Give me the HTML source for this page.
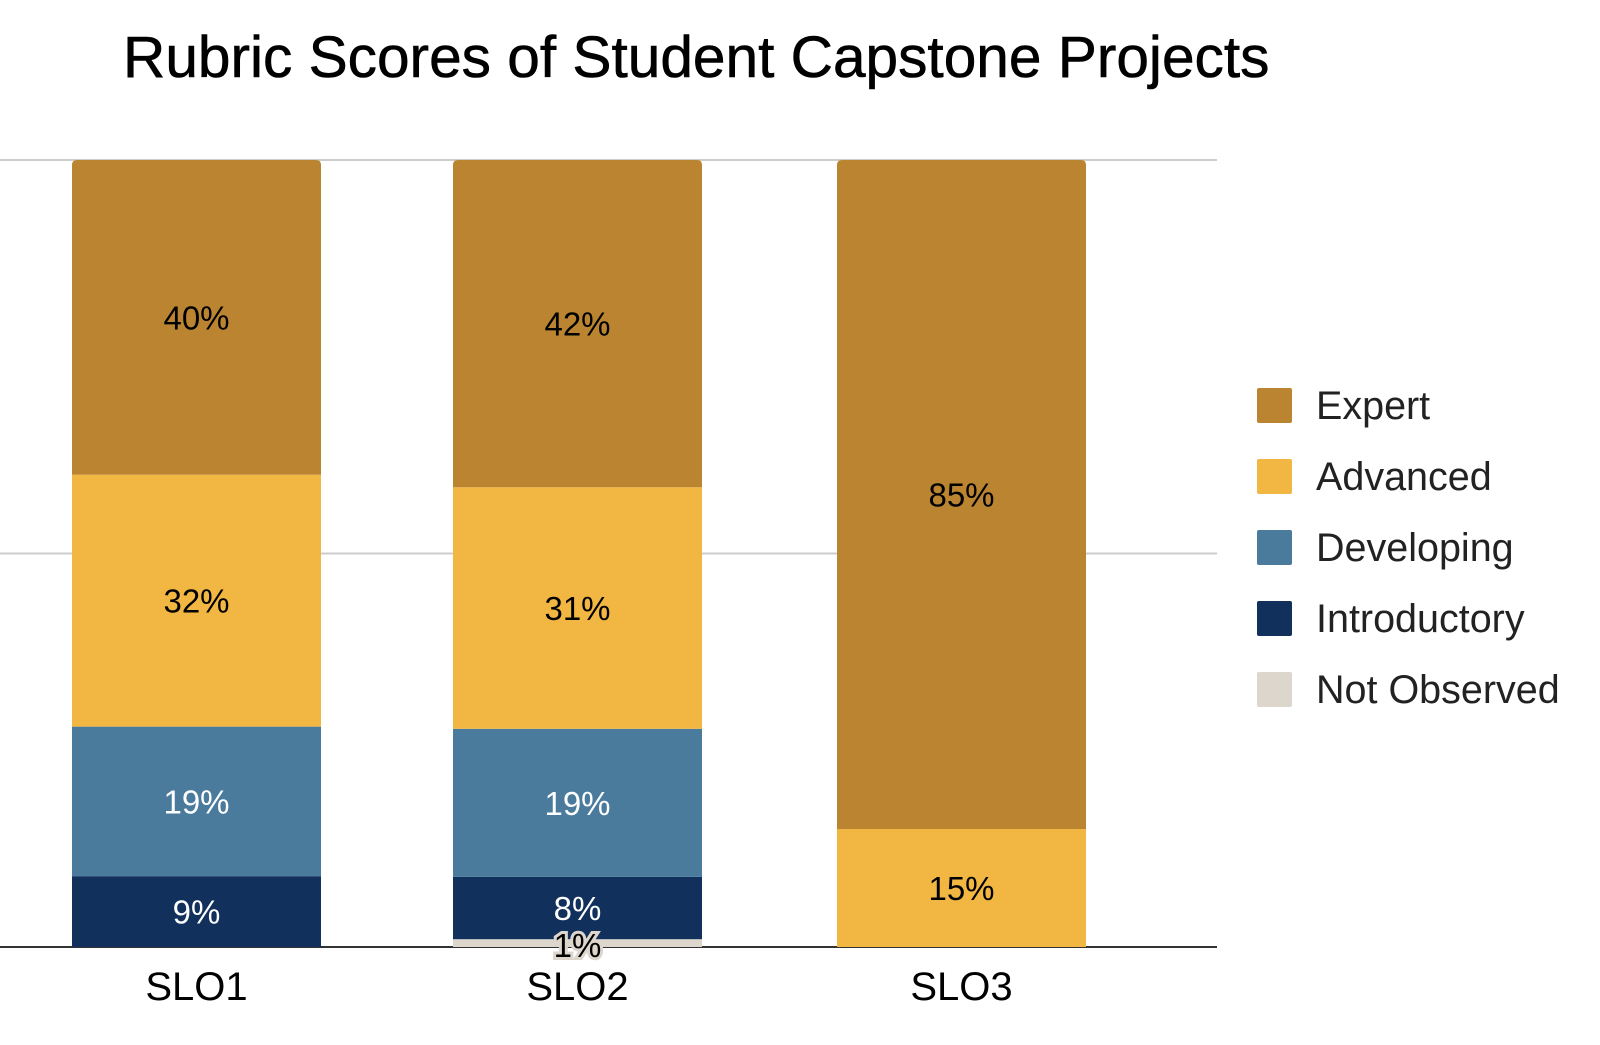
<!DOCTYPE html>
<html><head><meta charset="utf-8"><style>
body{margin:0;background:#fff;width:1600px;height:1040px;overflow:hidden;font-family:"Liberation Sans",Arial,sans-serif}
</style></head><body>
<svg id="chart" width="1600" height="1040" xmlns="http://www.w3.org/2000/svg" font-family="Liberation Sans, Arial, sans-serif">
<text x="123" y="77" font-size="58.6" fill="#000" stroke="#000" stroke-width="0.6">Rubric Scores of Student Capstone Projects</text>
<g id="grid"></g><g id="bars"></g><g id="labels"></g><g id="legend"></g>
</svg>
<script>
const categories=["SLO1","SLO2","SLO3"];
const seriesNames=["Not Observed","Introductory","Developing","Advanced","Expert"];
const notObserved=[0,1,0];
const introductory=[9,8,0];
const developing=[19,19,0];
const advanced=[32,31,15];
const expert=[40,42,85];
const gridTicks=[0,50,100];
const series=[notObserved,introductory,developing,advanced,expert];
const colors=["#ddd6cc","#11315c","#4a7b9d","#f2b643","#bb8431"];
const textColors=["#000","#fff","#fff","#000","#000"];
const svgNS="http://www.w3.org/2000/svg";
const plotTop=160,plotBottom=947,plotLeft=0,plotRight=1217;
const barW=249,barStarts=[72,453,837];
function y(p){return plotBottom-(plotBottom-plotTop)*p/100;}
function mk(tag,attrs,parent){const e=document.createElementNS(svgNS,tag);for(const k in attrs)e.setAttribute(k,attrs[k]);parent.appendChild(e);return e;}
const grid=document.getElementById('grid'),bars=document.getElementById('bars'),labels=document.getElementById('labels'),legend=document.getElementById('legend');
gridTicks.forEach(t=>{if(t===0)return;const l=mk('line',{x1:plotLeft,x2:plotRight,y1:y(t),y2:y(t),stroke:'#ccc','stroke-width':2},grid);

});
categories.forEach((c,i)=>{
  const total=series.reduce((s,a)=>s+a[i],0);
  let cum=0;let topIdx=-1;
  series.forEach((a,j)=>{if(a[i]>0)topIdx=j;});
  series.forEach((a,j)=>{
    const v=a[i];if(v<=0)return;
    const p0=cum/total*100,p1=(cum+v)/total*100;cum+=v;
    const yt=y(p1),yb=y(p0),x=barStarts[i];
    let r;
    if(j===topIdx){r=mk('path',{d:`M${x},${yb}V${yt+5}Q${x},${yt} ${x+5},${yt}H${x+barW-5}Q${x+barW},${yt} ${x+barW},${yt+5}V${yb}Z`,fill:colors[j]},bars);}
    else r=mk('rect',{x:x,y:yt,width:barW,height:yb-yt,fill:colors[j]},bars);
    
    
    const small=(yb-yt)<20;
    const ty=small?yb+10:(yt+yb)/2+12;
    const t=mk('text',{x:x+barW/2,y:ty,'text-anchor':'middle','font-size':33,fill:textColors[j]},labels);
    if(small){t.setAttribute('stroke','#ddd6cc');t.setAttribute('stroke-width','6');t.setAttribute('paint-order','stroke');t.setAttribute('fill','#000');}
    t.textContent=v+'%';
    
    
  });
  const xl=mk('text',{x:barStarts[i]+barW/2,y:plotBottom+53,'text-anchor':'middle','font-size':40,fill:'#000'},labels);
  xl.textContent=c;
  
  
});
const ax=mk('line',{x1:plotLeft,x2:plotRight,y1:plotBottom,y2:plotBottom,stroke:'#333','stroke-width':2},grid);


const legOrder=[4,3,2,1,0];
legOrder.forEach((j,k)=>{
  const cy=405+k*71;
  const g=mk('g',{},legend);
  
  
  mk('rect',{x:1257,y:cy-17,width:35,height:35,fill:colors[j],rx:2},g);
  const t=mk('text',{x:1316,y:cy+14,'font-size':39.5,fill:'#222'},g);
  t.textContent=seriesNames[j];
});
</script>
</body></html>
